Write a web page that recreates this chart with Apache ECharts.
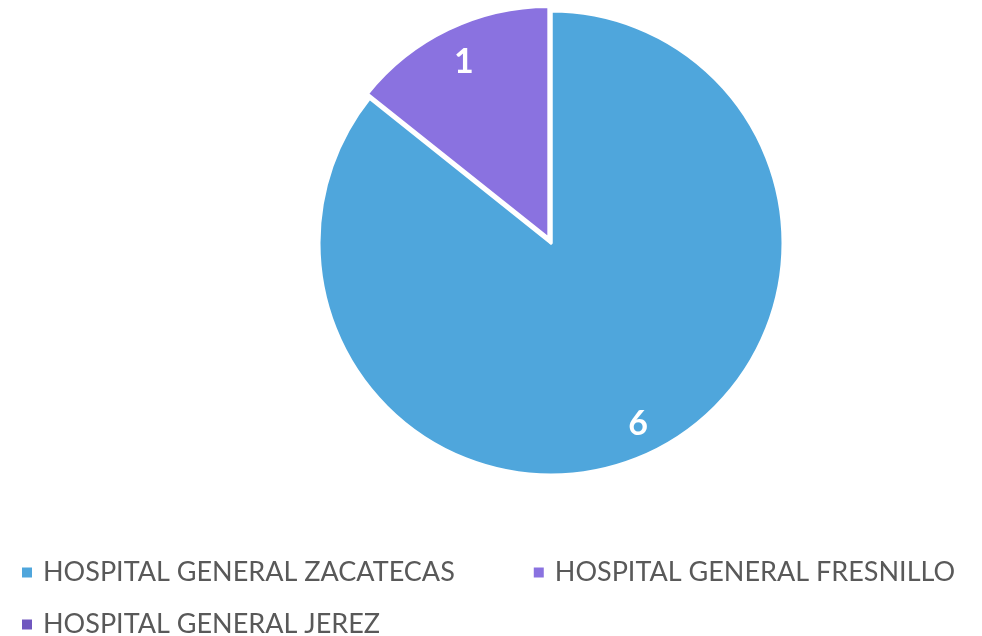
<!DOCTYPE html>
<html>
<head>
    <meta charset="utf-8">
    <title>Hospitales</title>
    <script src="https://cdn.jsdelivr.net/npm/echarts@6/dist/echarts.min.js"></script>
    <style>
        html, body { margin: 0; padding: 0; background: #fff; }
        #main { width: 982px; height: 636px; }
    </style>
</head>
<body>
<div id="main"></div>
<script type="text/javascript">
    // datos
    var hospitales = ['HOSPITAL GENERAL ZACATECAS', 'HOSPITAL GENERAL FRESNILLO', 'HOSPITAL GENERAL JEREZ'];
    var valores = [6, 1, 0];
    var colores = ['#4FA6DC', '#8A72E0', '#7057BF'];

    var myChart = echarts.init(document.getElementById('main'));

    var datos = [];
    var etiquetas = [];
    for (var i = 0; i < hospitales.length; i++) {
        datos.push({
            name: hospitales[i],
            value: valores[i],
            selected: i === 1,
            itemStyle: { color: colores[i] }
        });
        etiquetas.push({
            name: hospitales[i],
            value: valores[i],
            label: { show: valores[i] > 0 }
        });
    }

    var estiloLeyenda = {
        fontFamily: 'Lato',
        fontSize: 27,
        color: '#595959',
        padding: [0, 0, 0, 5]
    };

    var option = {
        backgroundColor: '#ffffff',
        animation: false,
        legend: [{
            data: [hospitales[0], hospitales[1]],
            left: 20,
            top: 559,
            padding: 0,
            orient: 'horizontal',
            icon: 'rect',
            itemWidth: 12,
            itemHeight: 12,
            itemGap: 77,
            selectedMode: false,
            textStyle: estiloLeyenda
        }, {
            data: [hospitales[2]],
            left: 20,
            top: 611,
            padding: 0,
            icon: 'rect',
            itemWidth: 12,
            itemHeight: 12,
            selectedMode: false,
            textStyle: estiloLeyenda
        }],
        series: [{
            type: 'pie',
            z: 2,
            center: [551, 243],
            radius: [0, 232],
            startAngle: 90,
            selectedMode: 'single',
            selectedOffset: 5,
            silent: true,
            itemStyle: { borderColor: '#ffffff', borderWidth: 3 },
            label: { show: false },
            labelLine: { show: false },
            data: datos
        }, {
            // solo etiquetas, colocadas cerca del borde
            type: 'pie',
            z: 10,
            center: [551, 243],
            radius: [0, 396],
            startAngle: 90,
            silent: true,
            avoidLabelOverlap: false,
            itemStyle: { color: 'transparent', borderWidth: 0 },
            label: {
                show: true,
                position: 'inside',
                formatter: '{c}',
                fontFamily: 'Lato',
                fontWeight: 'bold',
                fontSize: 34,
                color: '#ffffff'
            },
            labelLine: { show: false },
            data: etiquetas
        }]
    };

    myChart.setOption(option);
</script>
</body>
</html>
